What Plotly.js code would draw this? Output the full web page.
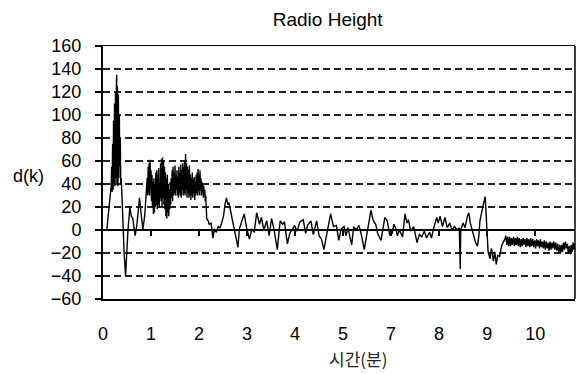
<!DOCTYPE html>
<html>
<head>
<meta charset="utf-8">
<script src="https://cdn.plot.ly/plotly-3.0.1.min.js"></script>
<style>html,body{margin:0;padding:0;background:#fff;}#chart{width:580px;height:374px;}</style>
</head>
<body>
<div id="chart"></div>
<script>
// x positions are tick slots (slot i carries label tickLabels[i])
const tickSlots = [0, 1, 2, 3, 4, 5, 6, 7, 8, 9];
const tickLabels = ['0', '1', '2', '3', '4', '5', '7', '8', '9', '10'];
const yTicks = [-60, -40, -20, 0, 20, 40, 60, 80, 100, 120, 140, 160];

// lead-in, first spike and dip: [slot, d(k)]
const leadSeg = [
  [0,0],[0.04,0],[0.08,0],[0.11,13],[0.14,29],[0.16,36],[0.17,38],[0.18,55],[0.19,33],[0.20,75],
  [0.21,35],[0.22,95],[0.23,40],[0.24,110],[0.25,38],[0.26,120],[0.27,45],[0.28,128],[0.285,135],[0.29,40],
  [0.30,125],[0.31,38],[0.32,118],[0.33,45],[0.34,100],[0.35,55],[0.36,80],[0.37,40],[0.38,45],[0.40,24],
  [0.42,0],[0.44,-20],[0.47,-40],[0.49,-22],[0.52,0],[0.56,20],[0.59,12],[0.62,10],[0.67,-5],[0.71,6],
  [0.76,28],[0.80,12],[0.83,0],[0.87,13],[0.90,38]
];

// dense oscillating band between slot 0.92 and 2.16
const bandSeg = [
  [0.92,45],[0.93,30],[0.94,55],[0.95,32],[0.96,58],[0.97,30],[0.98,61],[0.99,35],[1.00,52],[1.01,25],
  [1.02,48],[1.03,20],[1.04,42],[1.05,14],[1.06,45],[1.07,15],[1.08,40],[1.09,20],[1.10,50],[1.11,22],
  [1.12,52],[1.13,18],[1.14,48],[1.15,22],[1.16,54],[1.17,20],[1.18,40],[1.19,28],[1.20,58],[1.21,25],
  [1.22,62],[1.23,20],[1.24,63],[1.25,28],[1.26,60],[1.27,22],[1.28,55],[1.29,18],[1.30,50],[1.31,12],
  [1.32,45],[1.33,10],[1.34,48],[1.35,15],[1.36,40],[1.37,12],[1.38,35],[1.39,18],[1.40,42],[1.41,22],
  [1.42,45],[1.43,28],[1.44,52],[1.45,25],[1.46,55],[1.47,30],[1.48,50],[1.49,32],[1.50,56],[1.51,30],
  [1.52,48],[1.53,35],[1.54,52],[1.55,30],[1.56,46],[1.57,28],[1.58,55],[1.59,32],[1.60,50],[1.61,30],
  [1.62,57],[1.63,28],[1.64,52],[1.65,35],[1.66,58],[1.67,30],[1.68,55],[1.69,32],[1.70,60],[1.71,30],
  [1.72,66],[1.73,35],[1.74,58],[1.75,28],[1.76,55],[1.77,32],[1.78,52],[1.79,28],[1.80,56],[1.81,30],
  [1.82,48],[1.83,26],[1.84,45],[1.85,30],[1.86,50],[1.87,28],[1.88,44],[1.89,32],[1.90,46],[1.91,26],
  [1.92,42],[1.93,30],[1.94,48],[1.95,32],[1.96,50],[1.97,30],[1.98,53],[1.99,34],[2.00,48],[2.01,30],
  [2.02,52],[2.03,35],[2.04,45],[2.05,30],[2.06,42],[2.07,32],[2.08,40],[2.09,28],[2.10,38],[2.11,30],
  [2.12,35],[2.13,25],[2.14,30],[2.15,20],[2.16,10]
];

// calmer noisy section from slot 2.19 to 8.37
const calmSeg = [
  [2.19,8],[2.21,5],[2.25,6],[2.29,-7],[2.32,1],[2.36,-2],[2.40,3],[2.44,2],[2.47,6],[2.51,12],
  [2.54,22],[2.57,28],[2.60,22],[2.62,24],[2.64,20],[2.68,12],[2.75,-2],[2.81,-15],[2.84,1],[2.89,8],
  [2.94,14],[2.99,2],[3.05,-8],[3.10,1],[3.15,-2],[3.20,15],[3.26,5],[3.30,11],[3.35,0],[3.41,8],
  [3.46,-5],[3.51,10],[3.56,1],[3.63,-17],[3.69,8],[3.74,5],[3.78,7],[3.84,-12],[3.89,-3],[3.95,1],
  [3.99,4],[4.04,-1],[4.10,7],[4.17,9],[4.22,-3],[4.26,4],[4.33,8],[4.38,-4],[4.45,8],[4.50,-5],
  [4.55,-8],[4.60,-17],[4.65,-6],[4.70,5],[4.74,14],[4.80,3],[4.86,4],[4.91,-9],[4.96,1],[5.02,3],
  [5.06,-5],[5.10,2],[5.15,-9],[5.18,-13],[5.22,3],[5.27,0],[5.33,4],[5.38,-4],[5.44,-17],[5.49,-4],
  [5.52,4],[5.58,17],[5.63,8],[5.68,5],[5.72,-3],[5.79,-9],[5.83,1],[5.87,11],[5.92,8],[5.97,-4],
  [6.02,-3],[6.06,5],[6.10,1],[6.13,-5],[6.17,0],[6.24,-6],[6.29,14],[6.33,6],[6.36,9],[6.41,-1],
  [6.47,3],[6.54,-11],[6.59,-4],[6.64,-6],[6.69,-1],[6.74,-7],[6.80,-2],[6.84,-7],[6.89,2],[6.95,11],
  [6.98,6],[7.02,12],[7.07,3],[7.12,11],[7.17,2],[7.22,6],[7.27,0],[7.32,3],[7.37,0],[7.42,2],
  [7.44,-34],[7.45,0],[7.50,6],[7.54,2],[7.59,12],[7.62,15],[7.65,6],[7.69,0],[7.72,-5],[7.76,-11],
  [7.80,-14],[7.83,-4],[7.85,8],[7.88,15],[7.92,22],[7.96,29],[7.98,15],[7.99,-1],[8.02,-19],[8.06,-25],
  [8.09,-16],[8.13,-27],[8.16,-19],[8.19,-30],[8.22,-22],[8.26,-23],[8.30,-14],[8.33,-11],[8.37,-8]
];

// thick negative band at the end
const tailSeg = [
  [8.39,-5],[8.41,-13],[8.43,-6],[8.45,-14],[8.47,-6],[8.49,-14],[8.51,-7],[8.53,-13],[8.55,-6],[8.57,-14],
  [8.59,-7],[8.61,-13],[8.63,-6],[8.65,-14],[8.67,-7],[8.69,-15],[8.71,-8],[8.73,-14],[8.75,-7],[8.77,-13],
  [8.79,-8],[8.81,-15],[8.83,-7],[8.85,-14],[8.87,-8],[8.89,-15],[8.91,-7],[8.93,-14],[8.95,-8],[8.97,-15],
  [8.99,-9],[9.01,-16],[9.03,-8],[9.05,-14],[9.07,-9],[9.09,-16],[9.11,-8],[9.13,-15],[9.15,-10],[9.17,-16],
  [9.19,-9],[9.21,-17],[9.23,-10],[9.25,-16],[9.27,-11],[9.29,-18],[9.31,-10],[9.33,-17],[9.35,-11],[9.37,-16],
  [9.39,-10],[9.41,-17],[9.43,-11],[9.45,-18],[9.47,-12],[9.49,-19],[9.51,-13],[9.53,-20],[9.55,-13],[9.57,-19],
  [9.59,-11],[9.61,-17],[9.63,-10],[9.65,-16],[9.67,-12],[9.69,-20],[9.71,-14],[9.73,-21],[9.75,-13],[9.77,-19],
  [9.79,-11],[9.81,-17],[9.83,-12]
];

const allPts = leadSeg.concat(bandSeg, calmSeg, tailSeg);
const xs = allPts.map(p => p[0]);
const ys = allPts.map(p => p[1]);

const FONT = 'Arial, "Liberation Sans", sans-serif';
const XMAX = 9.83;

const traces = [
  {x: xs, y: ys, type: 'scatter', mode: 'lines', line: {color: '#000', width: 1.4}, hoverinfo: 'skip', showlegend: false},
  {x: [], y: [], type: 'scatter', mode: 'lines', xaxis: 'x2', yaxis: 'y', showlegend: false}
];

const layout = {
  width: 580, height: 374,
  margin: {l: 103, r: 5, t: 46, b: 75},
  paper_bgcolor: '#fff', plot_bgcolor: '#fff',
  font: {family: FONT, color: '#000', size: 18},
  title: {text: 'Radio Height', font: {family: FONT, size: 19, color: '#000'},
          x: 0.565, xref: 'container', xanchor: 'center', y: 0.947, yref: 'container', yanchor: 'middle'},
  xaxis: {
    range: [0, XMAX], tickmode: 'array', tickvals: tickSlots, ticktext: tickLabels,
    showgrid: false, zeroline: false, ticks: '', showline: true, linecolor: '#000', linewidth: 1.5, mirror: true,
    tickfont: {family: FONT, size: 18, color: '#000'}, ticklabelstandoff: 18
  },
  xaxis2: {
    range: [0, XMAX], overlaying: 'x', anchor: 'free', position: 60 / 220,
    tickmode: 'array', tickvals: tickSlots.slice(1), showticklabels: false,
    ticks: 'outside', ticklen: 5, tickwidth: 1.5, tickcolor: '#000',
    showgrid: false, zeroline: false, showline: false
  },
  yaxis: {
    range: [-60, 160], tickmode: 'array', tickvals: yTicks,
    ticks: 'outside', ticklen: 6, tickwidth: 1.5, tickcolor: '#000',
    showgrid: true, gridcolor: '#222', gridwidth: 1.5, griddash: '7px,4px',
    zeroline: true, zerolinecolor: '#000', zerolinewidth: 2,
    showline: true, linecolor: '#000', linewidth: 2, mirror: false,
    tickfont: {family: FONT, size: 18, color: '#000'}, ticklabelstandoff: 10
  },
  shapes: [
    {type: 'line', xref: 'paper', yref: 'paper', x0: 1, x1: 1, y0: 0, y1: 1, line: {color: '#000', width: 1.5}}
  ],
  annotations: [
    {text: 'd(k)', xref: 'paper', yref: 'paper', x: -0.157, y: 0.486, xanchor: 'center', yanchor: 'middle',
     showarrow: false, font: {family: FONT, size: 18, color: '#000'}},
    {text: '시간(분)', xref: 'paper', yref: 'paper', x: 0.54, y: -0.237, xanchor: 'center', yanchor: 'middle',
     showarrow: false, font: {family: '"Noto Sans CJK KR", sans-serif', size: 17, color: '#222'}}
  ]
};

Plotly.newPlot('chart', traces, layout, {displayModeBar: false, staticPlot: true});
</script>
</body>
</html>
